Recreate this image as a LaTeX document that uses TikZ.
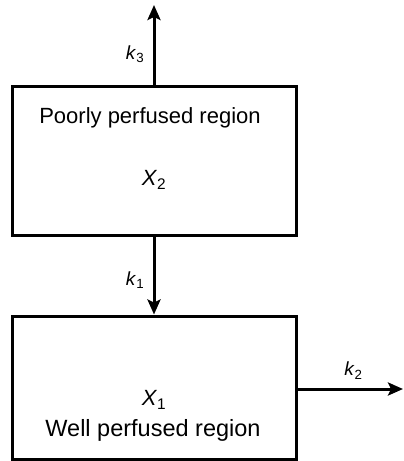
\documentclass[tikz,border=0pt]{standalone}
\usepackage{fontspec}
\setmainfont{Liberation Sans}
\usetikzlibrary{arrows.meta}
\tikzset{
  region/.style={draw,line width=3pt,minimum width=284pt},
  label/.style={font=\fontsize{22}{26}\selectfont},
  flow/.style={line width=3pt,-{Stealth[length=15pt,width=13pt,inset=3pt]}},
  rate/.style={font=\fontsize{19}{22}\selectfont}
}
\newcommand{\rk}[1]{\textit{k}\textsubscript{#1}}
\newcommand{\cx}[1]{\textit{X}\textsubscript{#1}}
\begin{document}
\begin{tikzpicture}[x=1pt,y=-1pt]
    \useasboundingbox (0,0) rectangle (404,461);
    % compartments
    \node[region,minimum height=149pt] (poorly) at (154,160.5) {};
    \node[region,minimum height=143pt] (well) at (154,387.5) {};
    % texts
    \node[label] (poorlytxt) at (150,118) {Poorly perfused region};
    \node[label] (xtwo) at (154,180) {\cx{2}};
    \node[label] (xone) at (154,400) {\cx{1}};
    \node[label,font=\fontsize{23.5}{26}\selectfont] (welltxt) at (153,430) {Well perfused region};
    % free ends
    \coordinate (outthree) at (154,5);
    \coordinate (outtwo) at (403,389);
    % transfers
    \draw[flow] (poorly.north) -- (outthree) node[rate,pos=0.38,left=5pt] {\rk{3}};
    \draw[flow] (poorly.south) -- (well.north) node[rate,pos=0.56,left=5pt] {\rk{1}};
    \draw[flow] (well.east |- outtwo) -- (outtwo) node[rate,pos=0.53,above=5pt] {\rk{2}};
\end{tikzpicture}
\end{document}
